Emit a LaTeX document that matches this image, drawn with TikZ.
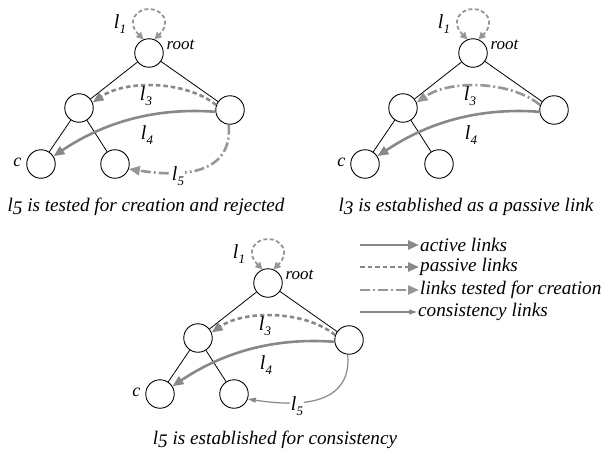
\documentclass[tikz,border=0pt]{standalone}
\usepackage{fontspec}
\setmainfont{Liberation Serif}
\usetikzlibrary{arrows.meta}
\definecolor{lk}{RGB}{136,136,136}
\definecolor{lt}{RGB}{150,150,150}
\newcommand\lsub[1]{{\fontsize{20}{22}\selectfont\itshape l}\kern0.3pt\raisebox{-0.6ex}{\fontsize{13}{13}\selectfont\itshape #1}}
\newcommand\capl[1]{\textit{l}\raisebox{-0.35ex}{\itshape #1}}
\newcommand\drawtree{%
  \node[vert] (root) at (149,53) {};
  \node[vert] (L) at (79,108) {};
  \node[vert] (R) at (230,110) {};
  \node[vert] (C) at (41,164) {};
  \node[vert] (B) at (115,164) {};
  \draw[edge] (root) -- (L) (root) -- (R) (L) -- (C) (L) -- (B);
  \node[anchor=west,font=\fontsize{17}{20}\selectfont\itshape] (rootlab) at (163,45) {root};
  \node[anchor=east,font=\fontsize{18}{20}\selectfont\itshape] (clab) at (25,162) {c};
  \node (l1) at (120,24) {\lsub{1}};
  \draw[loopl] (root.112) .. controls (126,22) and (136,9) .. (149,9)
      .. controls (162,9) and (172,22) .. (root.68);
  \draw[active] (R.187) .. controls (150,107) and (100,125) .. (C.32);
  \node (l4) at (147,135) {\lsub{4}};
}
\begin{document}
\begin{tikzpicture}[x=1pt,y=-1pt,font=\fontsize{19.2}{22}\selectfont\itshape,
  vert/.style={circle,draw,line width=0.9pt,minimum size=28.5pt,inner sep=0pt,fill=white},
  edge/.style={line width=0.8pt},
  active/.style={draw=lk,line width=2.6pt,-{Triangle[length=11pt,width=9pt]}},
  passive/.style={draw=lk,line width=2.6pt,dash pattern=on 4.5pt off 3pt,-{Triangle[length=11pt,width=9pt]}},
  tested/.style={draw=lt,line width=2.6pt,dash pattern=on 10pt off 3pt on 2pt off 3pt,-{Triangle[length=11pt,width=9pt]}},
  consist/.style={draw=lk,line width=1.2pt,-{Triangle[length=8pt,width=5pt]}},
  loopl/.style={draw=lt,line width=1.8pt,dash pattern=on 4pt off 2.5pt,{Triangle[length=7pt,width=7pt]}-{Triangle[length=7pt,width=7pt]}},
  lbl/.style={fill=white,inner sep=1pt}]
\useasboundingbox (0,0) rectangle (610,463);
% panel 1
\begin{scope}[name prefix=a-]
  \drawtree
  \draw[passive] (R.160) .. controls (185,80) and (125,80) .. (L.22);
  \node (l3) at (146,96) {\lsub{3}};
  \draw[tested] (R.-95) .. controls (232,165) and (200,180) .. (B.-20);
  \node[lbl] (l5) at (178,176) {\lsub{5}};
  \node (cap) at (146,207) {\capl{5} is tested for creation and rejected};
\end{scope}
% panel 2
\begin{scope}[shift={(324,0)},name prefix=b-]
  \drawtree
  \draw[tested] (R.160) .. controls (185,80) and (125,80) .. (L.22);
  \node (l3) at (146,96) {\lsub{3}};
  \node (cap) at (142,207) {\capl{3} is established as a passive link};
\end{scope}
% panel 3
\begin{scope}[shift={(119,230)},name prefix=c-]
  \drawtree
  \draw[passive] (R.160) .. controls (185,80) and (125,80) .. (L.22);
  \node (l3) at (146,96) {\lsub{3}};
  \draw[consist] (R.-95) .. controls (232,165) and (200,180) .. (B.-20);
  \node[lbl] (l5) at (178,176) {\lsub{5}};
  \node (cap) at (156,210) {\capl{5} is established for consistency};
\end{scope}
% legend
\coordinate (s1) at (360,245); \coordinate (e1) at (419,245);
\coordinate (s2) at (360,267); \coordinate (e2) at (419,267);
\coordinate (s3) at (360,290); \coordinate (e3) at (419,290);
\coordinate (s4) at (360,312); \coordinate (e4) at (417,312);
\draw[active] (s1) -- (e1);
\draw[passive] (s2) -- (e2);
\draw[tested] (s3) -- (e3);
\draw[consist] (s4) -- (e4);
\node[anchor=west,inner sep=1pt] (t1) at (e1) {active links};
\node[anchor=west,inner sep=1pt] (t2) at (e2) {passive links};
\node[anchor=west,inner sep=1pt] (t3) at (e3) {links tested for creation};
\node[anchor=west,inner sep=1pt] (t4) at (e4) {consistency links};
\end{tikzpicture}
\end{document}
